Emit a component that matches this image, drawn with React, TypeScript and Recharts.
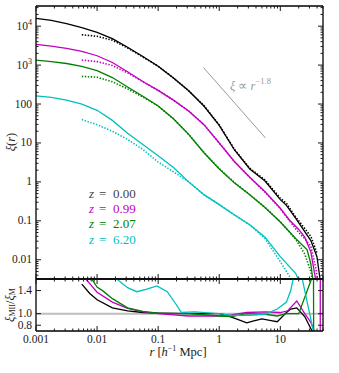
import React from 'react';
import { LineChart, Line, XAxis, YAxis, ReferenceLine } from 'recharts';

// xi(r) from Millennium-II (solid) and Millennium (dotted), [r, xi] pairs
const miiZ000: [number, number][] = [
  [0.001, 15800], [0.00178, 14100], [0.00316, 11700], [0.00562, 9120], [0.01, 6920],
  [0.0178, 4790], [0.0316, 2880], [0.0562, 1660], [0.1, 933], [0.178, 468], [0.316, 219],
  [0.562, 89], [1, 28.2], [1.78, 6.6], [3.16, 2.14], [5.62, 1.05], [10, 0.35], [12.6, 0.25],
  [17.8, 0.117], [31.6, 0.031], [39.8, 0.012], [45.7, 0.0025],
];
const mZ000: [number, number][] = [
  [0.00562, 6030], [0.01, 5500], [0.0178, 4370], [0.0316, 2750], [0.0562, 1620], [0.1, 933],
  [0.178, 468], [0.316, 219], [0.562, 91], [1, 29], [1.78, 6.8], [3.16, 2.24], [5.62, 1.12],
  [10, 0.38], [12.6, 0.28], [17.8, 0.126], [31.6, 0.04], [39.8, 0.015],
];
const miiZ099: [number, number][] = [
  [0.001, 3390], [0.00178, 3090], [0.00316, 2690], [0.00562, 2240], [0.01, 1740],
  [0.0178, 1170], [0.0316, 676], [0.0562, 380], [0.1, 224], [0.178, 126], [0.316, 66],
  [0.562, 29.5], [1, 10], [1.78, 3.3], [3.16, 1.32], [5.62, 0.56], [10, 0.21], [14.1, 0.105],
  [20, 0.06], [25.1, 0.038], [31.6, 0.016], [37.2, 0.0037], [41.7, 0.001],
];
const mZ099: [number, number][] = [
  [0.00562, 1350], [0.01, 1230], [0.0178, 977], [0.0316, 631], [0.0562, 372], [0.1, 224],
  [0.178, 126], [0.316, 66], [0.562, 29.5], [1, 10], [1.78, 3.3], [3.16, 1.3], [5.62, 0.55],
  [10, 0.205], [14.1, 0.1], [20, 0.05], [25.1, 0.035], [31.6, 0.022], [38, 0.0063], [41.7, 0.0025],
];
const miiZ207: [number, number][] = [
  [0.001, 1350], [0.00178, 1230], [0.00316, 1100], [0.00562, 933], [0.01, 724],
  [0.0178, 479], [0.0316, 275], [0.0562, 158], [0.1, 89], [0.178, 41.7], [0.316, 16.6],
  [0.562, 5.6], [1, 2.14], [1.78, 0.93], [3.16, 0.47], [5.62, 0.22], [10, 0.093],
  [17.8, 0.035], [27.5, 0.018], [31.6, 0.0079], [34.7, 0.0025],
];
const mZ207: [number, number][] = [
  [0.00562, 513], [0.01, 490], [0.0178, 372], [0.0316, 245], [0.0562, 151], [0.1, 89],
  [0.178, 41.7], [0.316, 16.6], [0.562, 5.7], [1, 2.2], [1.78, 0.96], [3.16, 0.47],
  [5.62, 0.22], [10, 0.095], [17.8, 0.034], [25.1, 0.014], [31.6, 0.005], [33.9, 0.0025],
];
const miiZ620: [number, number][] = [
  [0.001, 162], [0.00178, 148], [0.00316, 126], [0.00562, 100], [0.01, 69], [0.0178, 38],
  [0.0316, 17.8], [0.0562, 9.1], [0.1, 4.7], [0.178, 2.34], [0.316, 1.0], [0.562, 0.47],
  [1, 0.26], [1.78, 0.141], [3.16, 0.079], [5.62, 0.038], [10, 0.012], [17.8, 0.0045], [22.4, 0.002],
];
const mZ620: [number, number][] = [
  [0.00562, 40], [0.01, 29.5], [0.0178, 20], [0.0316, 12.3], [0.0562, 6.8], [0.1, 3.24],
  [0.178, 1.82], [0.316, 1.0], [0.562, 0.47], [1, 0.26], [1.78, 0.141], [3.16, 0.079],
  [5.62, 0.035], [10, 0.0089], [15.5, 0.003], [17.8, 0.002],
];

// power-law guide, xi ~ r^-1.8
const guideLine: [number, number][] = [[0.55, 870], [5.7, 13.5]];

// ratio xi_MII / xi_M
const ratioZ000: [number, number][] = [
  [0.00562, 1.51], [0.00759, 1.35], [0.01, 1.24], [0.0178, 1.1], [0.0316, 1.05], [0.0562, 1.02],
  [0.1, 1.01], [0.316, 1.0], [1, 1.0], [1.26, 0.98], [2.0, 0.9], [2.82, 0.84], [3.55, 0.87],
  [5.0, 0.91], [7.08, 0.88], [8.91, 0.86], [12.6, 1.02], [14.8, 1.08], [18.6, 1.1], [25.1, 0.95],
  [33.1, 0.7], [36.3, 0.5],
];
const ratioZ099: [number, number][] = [
  [0.00562, 1.68], [0.00759, 1.52], [0.01, 1.37], [0.0178, 1.2], [0.0316, 1.09], [0.0562, 1.03],
  [0.1, 1.0], [0.316, 0.96], [1, 0.96], [1.58, 0.98], [2.82, 1.02], [5.62, 1.03], [10, 1.02],
  [13.2, 1.05], [18.6, 1.22], [25.1, 1.0], [31.6, 0.85], [35.5, 0.72], [39.8, 0.4], [45.0, 0.0],
  [45.3, 3.0],
];
const ratioZ207: [number, number][] = [
  [0.00562, 1.86], [0.01, 1.46], [0.0126, 1.39], [0.0178, 1.26], [0.0316, 1.1], [0.0562, 1.04],
  [0.1, 1.01], [0.316, 1.0], [1, 0.96], [1.58, 0.95], [2.82, 1.0], [5.62, 0.99], [8.91, 0.96],
  [12.6, 1.0], [20, 1.0], [32.4, 1.6], [34.9, 1.9], [35.2, 0.3],
];
const ratioZ620: [number, number][] = [
  [0.0178, 2.0], [0.0209, 1.6], [0.0316, 1.45], [0.0447, 1.38], [0.0631, 1.42], [0.0955, 1.48],
  [0.141, 1.38], [0.2, 1.15], [0.24, 1.02], [0.398, 1.03], [1, 1.0], [1.58, 0.97], [3.16, 0.97],
  [5.62, 0.99], [8.91, 1.08], [12.6, 1.2], [14.8, 1.4], [17.8, 1.8], [20, 2.2], [22.9, 1.6],
  [34.7, 0.7], [39.8, 0.3],
];

const redshifts = ['0.00', '0.99', '2.07', '6.20'];
const colors = ['#000000', '#bf00bf', '#008000', '#00bfbf'];

const xDecades = [0.001, 0.01, 0.1, 1, 10];
const xLabels = ['0.001', '0.01', '0.1', '1', '10'];
const yDecades = [0.001, 0.01, 0.1, 1, 10, 100, 1000, 10000];
const yLabels = ['0.01', '0.1', '1', '10', '100', '10^3', '10^4'];
const ratioTicks = [0.8, 1.0, 1.4];
const ratioLabels = ['0.8', '1.0', '1.4'];

const X_DOMAIN: [number, number] = [0.001, 50];
const Y_DOMAIN: [number, number] = [0.0032, 33000];
const R_DOMAIN: [number, number] = [0.7, 1.6];

const withMinors = (decades: number[], lo: number, hi: number) => {
  const out: number[] = [];
  decades.forEach((d) => {
    [1, 2, 3, 4, 5, 6, 7, 8, 9].forEach((m) => {
      const v = m * d;
      if (v >= lo && v <= hi) out.push(v);
    });
  });
  return out;
};
const xTicks = withMinors(xDecades, X_DOMAIN[0], X_DOMAIN[1]);
const yTicks = withMinors(yDecades, Y_DOMAIN[0], Y_DOMAIN[1]);

const toPts = (pairs: [number, number][]) => pairs.map(([r, v]) => ({ r, v }));
const isDecade = (v: number) => Math.abs(Math.log10(v) - Math.round(Math.log10(v))) < 1e-6;

const FONT = "'Liberation Serif', 'Times New Roman', serif";
const INK = '#1a1a1a';
const serif = { fontFamily: FONT };

type Side = 'top' | 'bottom' | 'left' | 'right';

/** Inward ticks, matplotlib style, with optional labels outside. */
const makeTick =
  (side: Side, majorTest: (v: number) => boolean, labelFor?: (v: number) => string | null) =>
  (props: any) => {
    const { x, y, payload } = props;
    const v = payload.value as number;
    const len = majorTest(v) ? 5 : 2.5;
    let line = null;
    if (side === 'bottom') line = <line x1={x} x2={x} y1={y} y2={y - len} />;
    if (side === 'top') line = <line x1={x} x2={x} y1={y} y2={y + len} />;
    if (side === 'left') line = <line x1={x} x2={x + len} y1={y} y2={y} />;
    if (side === 'right') line = <line x1={x} x2={x - len} y1={y} y2={y} />;
    const lab = labelFor ? labelFor(v) : null;
    let text = null;
    if (lab) {
      if (side === 'bottom') {
        text = (
          <text x={x} y={y + 12} textAnchor="middle" fontSize={11.5} style={serif} fill={INK} stroke="none">
            {lab}
          </text>
        );
      } else if (side === 'left') {
        const sup = lab.split('^');
        text = (
          <text x={x - 4} y={y + 3.5} textAnchor="end" fontSize={11.5} style={serif} fill={INK} stroke="none">
            {sup[0]}
            {sup[1] ? (
              <tspan dy={-5} fontSize={8}>
                {sup[1]}
              </tspan>
            ) : null}
          </text>
        );
      }
    }
    return (
      <g stroke={INK} strokeWidth={1}>
        {line}
        {text}
      </g>
    );
  };

const labelFromList = (vals: number[], labels: string[]) => (v: number) => {
  const i = vals.findIndex((d) => Math.abs(Math.log10(d) - Math.log10(v)) < 1e-6);
  return i >= 0 ? labels[i] : null;
};

const axisLine = { stroke: '#000', strokeWidth: 1.3 };

export default function App() {
  const mii = [miiZ000, miiZ099, miiZ207, miiZ620];
  const mm = [mZ000, mZ099, mZ207, mZ620];
  const ratios = [ratioZ000, ratioZ099, ratioZ207, ratioZ620];

  return (
    <div style={{ position: 'absolute', left: 0, top: 0, width: 339, height: 373, background: '#fff' }}>
      {/* top panel: correlation functions */}
      <div style={{ position: 'absolute', left: 0, top: 0 }}>
        <LineChart width={339} height={289} margin={{ top: 0, right: 0, bottom: 0, left: 0 }}>
          <XAxis
            dataKey="r" type="number" scale="log" domain={X_DOMAIN} allowDataOverflow
            ticks={xTicks} interval={0} tickSize={0} tickMargin={0} tickLine={false}
            axisLine={axisLine} height={10}
            tick={makeTick('bottom', isDecade)}
          />
          <XAxis
            xAxisId="top" orientation="top" dataKey="r" type="number" scale="log" domain={X_DOMAIN}
            allowDataOverflow ticks={xTicks} interval={0} tickSize={0} tickMargin={0} tickLine={false}
            axisLine={axisLine} height={6}
            tick={makeTick('top', isDecade)}
          />
          <YAxis
            type="number" scale="log" domain={Y_DOMAIN} allowDataOverflow ticks={yTicks} interval={0}
            tickSize={0} tickMargin={0} tickLine={false} axisLine={axisLine} width={36}
            tick={makeTick('left', isDecade, labelFromList(yDecades.slice(1), yLabels))}
          />
          <YAxis
            yAxisId="right" orientation="right" type="number" scale="log" domain={Y_DOMAIN}
            allowDataOverflow ticks={yTicks} interval={0} tickSize={0} tickMargin={0} tickLine={false}
            axisLine={axisLine} width={16}
            tick={makeTick('right', isDecade)}
          />
          <Line
            data={toPts(guideLine)} dataKey="v" stroke="#9a9a9a" strokeWidth={1}
            dot={false} isAnimationActive={false}
          />
          {mm.map((s, i) => (
            <Line
              key={'m' + i} data={toPts(s)} dataKey="v" stroke={colors[i]} strokeWidth={1.6}
              strokeDasharray="1.4 1.6" dot={false} isAnimationActive={false}
            />
          ))}
          {mii.map((s, i) => (
            <Line
              key={'mii' + i} data={toPts(s)} dataKey="v" stroke={colors[i]} strokeWidth={1.3}
              dot={false} isAnimationActive={false}
            />
          ))}
        </LineChart>
      </div>

      {/* bottom panel: ratio */}
      <div style={{ position: 'absolute', left: 0, top: 273 }}>
        <LineChart width={339} height={100} margin={{ top: 0, right: 0, bottom: 0, left: 0 }}>
          <XAxis
            dataKey="r" type="number" scale="log" domain={X_DOMAIN} allowDataOverflow
            ticks={xTicks} interval={0} tickSize={0} tickMargin={0} tickLine={false}
            axisLine={axisLine} height={42}
            tick={makeTick('bottom', isDecade, labelFromList(xDecades, xLabels))}
          />
          <XAxis
            xAxisId="top" orientation="top" dataKey="r" type="number" scale="log" domain={X_DOMAIN}
            allowDataOverflow ticks={xTicks} interval={0} tickSize={0} tickMargin={0} tickLine={false}
            axisLine={axisLine} height={6}
            tick={makeTick('top', isDecade)}
          />
          <YAxis
            type="number" domain={R_DOMAIN} allowDataOverflow ticks={ratioTicks} interval={0}
            tickSize={0} tickMargin={0} tickLine={false} axisLine={axisLine} width={36}
            tick={makeTick('left', () => true, labelFromList(ratioTicks, ratioLabels))}
          />
          <YAxis
            yAxisId="right" orientation="right" type="number" domain={R_DOMAIN} allowDataOverflow
            ticks={ratioTicks} interval={0} tickSize={0} tickMargin={0} tickLine={false}
            axisLine={axisLine} width={16}
            tick={makeTick('right', () => true)}
          />
          <ReferenceLine y={1} stroke="#bdbdbd" strokeWidth={2} />
          {ratios.map((s, i) => (
            <Line
              key={'r' + i} data={toPts(s)} dataKey="v" stroke={colors[i]} strokeWidth={1.3}
              dot={false} isAnimationActive={false}
            />
          ))}
        </LineChart>
      </div>

      {/* axis titles, legend and annotation */}
      <svg
        width={339} height={373}
        style={{ position: 'absolute', left: 0, top: 0, pointerEvents: 'none', fontFamily: FONT }}
      >
        <text x={11} y={142} transform="rotate(-90 11 142)" textAnchor="middle" dominantBaseline="central" fontSize={12.5} fill={INK}>
          <tspan fontStyle="italic">ξ</tspan>(<tspan fontStyle="italic">r</tspan>)
        </text>
        <text x={10} y={305} transform="rotate(-90 10 305)" textAnchor="middle" dominantBaseline="central" fontSize={12.5} fill={INK}>
          <tspan fontStyle="italic">ξ</tspan>
          <tspan fontSize={8} dy={2}>MII</tspan>
          <tspan dy={-2}>/</tspan>
          <tspan fontStyle="italic">ξ</tspan>
          <tspan fontSize={8} dy={2}>M</tspan>
        </text>
        <text x={178} y={356} textAnchor="middle" fontSize={12.5} fill={INK}>
          <tspan fontStyle="italic">r</tspan> [<tspan fontStyle="italic">h</tspan>
          <tspan fontSize={8} dy={-5}>−1</tspan>
          <tspan dy={5}> Mpc]</tspan>
        </text>
        <text x={230} y={90} fontSize={12.5} fill="#9a9a9a">
          <tspan fontStyle="italic">ξ</tspan> ∝ <tspan fontStyle="italic">r</tspan>
          <tspan fontSize={8.5} dy={-6}>−1.8</tspan>
        </text>
        {redshifts.map((z, i) => (
          <g key={z} fill={i === 0 ? '#444' : colors[i]} fontSize={13}>
            <text x={89} y={198 + i * 15.2} fontStyle="italic">z</text>
            <text x={99} y={198 + i * 15.2}>=</text>
            <text x={113} y={198 + i * 15.2}>{z}</text>
          </g>
        ))}
      </svg>
    </div>
  );
}
